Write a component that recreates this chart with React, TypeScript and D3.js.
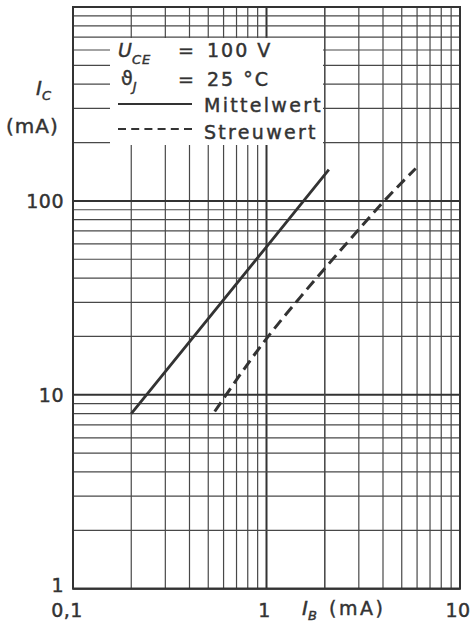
import React from "react";
import * as d3 from "d3";

// ---- data ----
const xDomain = [0.1, 10];
const yDomain = [1, 1000];
const xTickValues = [0.1, 1, 10];
const xTickLabels = ["0,1", "1", "10"];
const yTickValues = [1, 10, 100];
const yTickLabels = ["1", "10", "100"];

const mittelIB = [0.2, 1, 2.1];
const mittelIC = [8, 58, 145];

const streuIB = [0.54, 1, 1.5, 2.58, 4.06, 5.9];
const streuIC = [8.2, 19.5, 32, 60, 100, 147];

const W = 475;
const H = 635;
const left = 73;
const right = 460;
const top = 7;
const bottom = 588.7;

const INK = "#333";
const FONT = "'DejaVu Sans', sans-serif";

function minorValues(lo: number, hi: number): number[] {
  const out: number[] = [];
  for (let d = lo; d < hi * 0.999; d *= 10) {
    for (let k = 1; k <= 9; k++) out.push(+(d * k).toPrecision(6));
  }
  out.push(hi);
  return out;
}

export default function App() {
  const x = d3.scaleLog().domain(xDomain).range([left, right]);
  const y = d3.scaleLog().domain(yDomain).range([bottom, top]);

  const xGrid = minorValues(xDomain[0], xDomain[1]);
  const yGrid = minorValues(yDomain[0], yDomain[1]);
  const isDecade = (v: number) => Math.abs(Math.log10(v) - Math.round(Math.log10(v))) < 1e-6;

  const line = d3
    .line<[number, number]>()
    .x((d) => x(d[0]))
    .y((d) => y(d[1]))
    .curve(d3.curveMonotoneX);

  const mittel = mittelIB.map((v, i) => [v, mittelIC[i]] as [number, number]);
  const streu = streuIB.map((v, i) => [v, streuIC[i]] as [number, number]);

  // legend mask
  const lgX0 = 110, lgX1 = 323, lgY0 = 38, lgY1 = 145;

  const txt = { fontFamily: FONT, fill: INK, stroke: INK, strokeWidth: 0.45 } as const;
  const gridMinor = "#484848";

  return (
    <svg
      width={W}
      height={H}
      viewBox={`0 0 ${W} ${H}`}
      style={{ position: "absolute", left: 0, top: 0, background: "#fff" }}
    >
      <rect x={0} y={0} width={W} height={H} fill="#fff" />
      {/* grid */}
      <g>
        {xGrid.map((v) => (
          <line
            key={"gx" + v}
            x1={x(v)}
            x2={x(v)}
            y1={top}
            y2={bottom}
            stroke={isDecade(v) ? "#333" : gridMinor}
            strokeWidth={isDecade(v) ? 2 : 1.2}
          />
        ))}
        {yGrid.map((v) => (
          <line
            key={"gy" + v}
            x1={left}
            x2={right}
            y1={y(v)}
            y2={y(v)}
            stroke={isDecade(v) ? "#333" : gridMinor}
            strokeWidth={isDecade(v) ? 2 : 1.2}
          />
        ))}
      </g>
      {/* legend mask */}
      <rect x={lgX0} y={lgY0} width={lgX1 - lgX0} height={lgY1 - lgY0} fill="#fff" />
      {/* x=2 line passes through legend box edge */}
      <line x1={x(2)} x2={x(2)} y1={top} y2={bottom} stroke={gridMinor} strokeWidth={1.2} />
      {/* frame */}
      <rect
        x={left}
        y={top}
        width={right - left}
        height={bottom - top}
        fill="none"
        stroke="#333"
        strokeWidth={2}
      />
      {/* curves */}
      <path d={line(mittel) || ""} fill="none" stroke={INK} strokeWidth={2.8} strokeLinecap="butt" />
      <path
        d={line(streu) || ""}
        fill="none"
        stroke={INK}
        strokeWidth={3}
        strokeDasharray="11 6"
      />

      {/* legend */}
      <g style={txt} fontSize={19}>
        <text x={118} y={57} fontStyle="italic">
          U
          <tspan fontSize={13} dy={7} letterSpacing={1}>CE</tspan>
        </text>
        <text x={178} y={57}>=</text>
        <text x={207} y={57} letterSpacing={2}>100 V</text>
        <text x={121} y={85}>
          ϑ
          <tspan fontSize={13} dy={6} fontStyle="italic">J</tspan>
        </text>
        <text x={178} y={86}>=</text>
        <text x={207} y={86} letterSpacing={2}>25 °C</text>
        <line x1={118} x2={192} y1={104} y2={104} stroke={INK} strokeWidth={2.2} />
        <text x={204} y={112} letterSpacing={2.3}>Mittelwert</text>
        <line
          x1={118}
          x2={192}
          y1={129}
          y2={129}
          stroke={INK}
          strokeWidth={2.2}
          strokeDasharray="8 5.2"
        />
        <text x={204} y={139} letterSpacing={2.3}>Streuwert</text>
      </g>

      {/* y axis label */}
      <g style={txt}>
        <text x={36} y={95} fontSize={20} fontStyle="italic">
          I
          <tspan fontSize={13} dy={5}>C</tspan>
        </text>
        <text x={6} y={133} fontSize={20} letterSpacing={1}>(mA)</text>
      </g>

      {/* y tick labels */}
      <g style={txt} fontSize={19}>
        {yTickValues.map((v, i) => (
          <text
            key={"yt" + v}
            x={64}
            y={y(v) + (v === 1 ? 3 : 7)}
            textAnchor="end"
            letterSpacing={0.5}
          >
            {yTickLabels[i]}
          </text>
        ))}
      </g>

      {/* x tick labels */}
      <g style={txt} fontSize={19}>
        {xTickValues.map((v, i) => (
          <text
            key={"xt" + v}
            x={v === 0.1 ? x(v) - 6 : x(v) - 2}
            y={617}
            textAnchor="middle"
            letterSpacing={0.5}
          >
            {xTickLabels[i]}
          </text>
        ))}
      </g>

      {/* x axis label */}
      <g style={txt}>
        <text x={302} y={615} fontSize={20} fontStyle="italic">
          I
          <tspan fontSize={13} dy={5}>B</tspan>
        </text>
        <text x={329} y={615} fontSize={19} letterSpacing={2.5}>(mA)</text>
      </g>
    </svg>
  );
}
